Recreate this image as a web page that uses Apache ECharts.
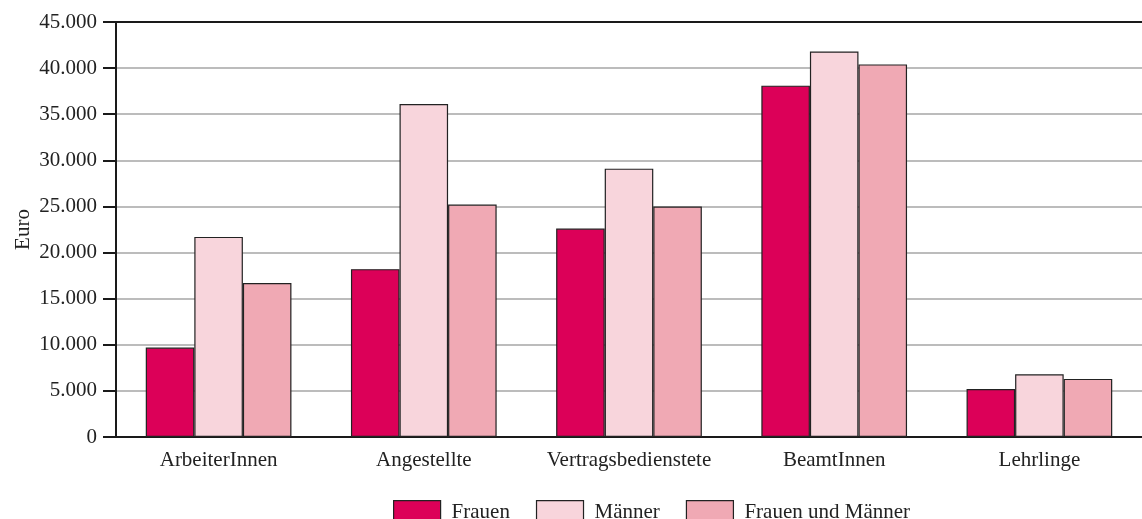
<!DOCTYPE html>
<html>
<head>
<meta charset="utf-8">
<script src="https://cdn.jsdelivr.net/npm/echarts@6/dist/echarts.min.js"></script>
<style>
  html, body { margin: 0; padding: 0; background: #fff; }
  #chart { width: 1142px; height: 519px; }
</style>
</head>
<body>
<div id="chart"></div>
<script>
// Daten
var categories = ['ArbeiterInnen', 'Angestellte', 'Vertragsbedienstete', 'BeamtInnen', 'Lehrlinge'];
var frauen = [9700, 18200, 22600, 38100, 5200];
var maenner = [21700, 36100, 29100, 41800, 6800];
var gesamt = [16700, 25200, 25000, 40400, 6300];
var seriesNames = ['Frauen', 'Männer', 'Frauen und Männer'];
var yTicks = { min: 0, max: 45000, interval: 5000 };

(function() {
  var myChart = echarts.init(document.getElementById('chart'));
  var font = '"Liberation Serif", "DejaVu Serif", serif';

  // Tausenderpunkt
  function fmt(v) {
    return String(v).replace(/\B(?=(\d{3})+(?!\d))/g, '.');
  }

  function bar(name, data, color) {
    return {
      name: name,
      type: 'bar',
      data: data,
      barGap: '0%',
      barCategoryGap: '29%',
      itemStyle: {
        color: color,
        borderColor: '#222',
        borderWidth: 1.2
      }
    };
  }

  var option = {
    animation: false,
    textStyle: { fontFamily: font },
    grid: {
      left: 116,
      right: 0,
      top: 22,
      bottom: 82,
      containLabel: false,
      outerBoundsMode: 'none'
    },
    legend: {
      top: 495,
      left: 388,
      itemWidth: 47,
      itemHeight: 24,
      itemGap: 26,
      icon: 'rect',
      itemStyle: { borderColor: '#222', borderWidth: 1.2 },
      textStyle: { fontFamily: font, fontSize: 21, color: '#222', padding: [0, 0, 0, 6] },
      data: seriesNames
    },
    xAxis: [
      {
        type: 'category',
        data: categories,
        axisTick: { show: false },
        axisLine: { lineStyle: { color: '#1a1a1a', width: 2 } },
        axisLabel: { color: '#222', fontSize: 21, fontFamily: font, margin: 13, interval: 0 }
      },
      {
        type: 'category',
        position: 'top',
        data: categories,
        axisTick: { show: false },
        axisLabel: { show: false },
        axisLine: { lineStyle: { color: '#1a1a1a', width: 2 } }
      }
    ],
    yAxis: {
      type: 'value',
      min: yTicks.min,
      max: yTicks.max,
      interval: yTicks.interval,
      name: 'Euro',
      nameLocation: 'middle',
      nameGap: 82,
      nameMoveOverlap: false,
      nameRotate: 90,
      nameTextStyle: { color: '#222', fontSize: 21, fontFamily: font },
      axisLine: { show: true, lineStyle: { color: '#1a1a1a', width: 2 } },
      axisTick: { show: true, inside: false, length: 13, lineStyle: { color: '#1a1a1a', width: 2 } },
      axisLabel: {
        color: '#222',
        fontSize: 21,
        fontFamily: font,
        margin: 19,
        formatter: fmt
      },
      splitLine: { lineStyle: { color: '#a6a6a6', width: 1.5 } }
    },
    series: [
      bar(seriesNames[0], frauen, '#dc0058'),
      bar(seriesNames[1], maenner, '#f8d5dc'),
      bar(seriesNames[2], gesamt, '#f0a9b4')
    ]
  };

  myChart.setOption(option);
})();
</script>
</body>
</html>
